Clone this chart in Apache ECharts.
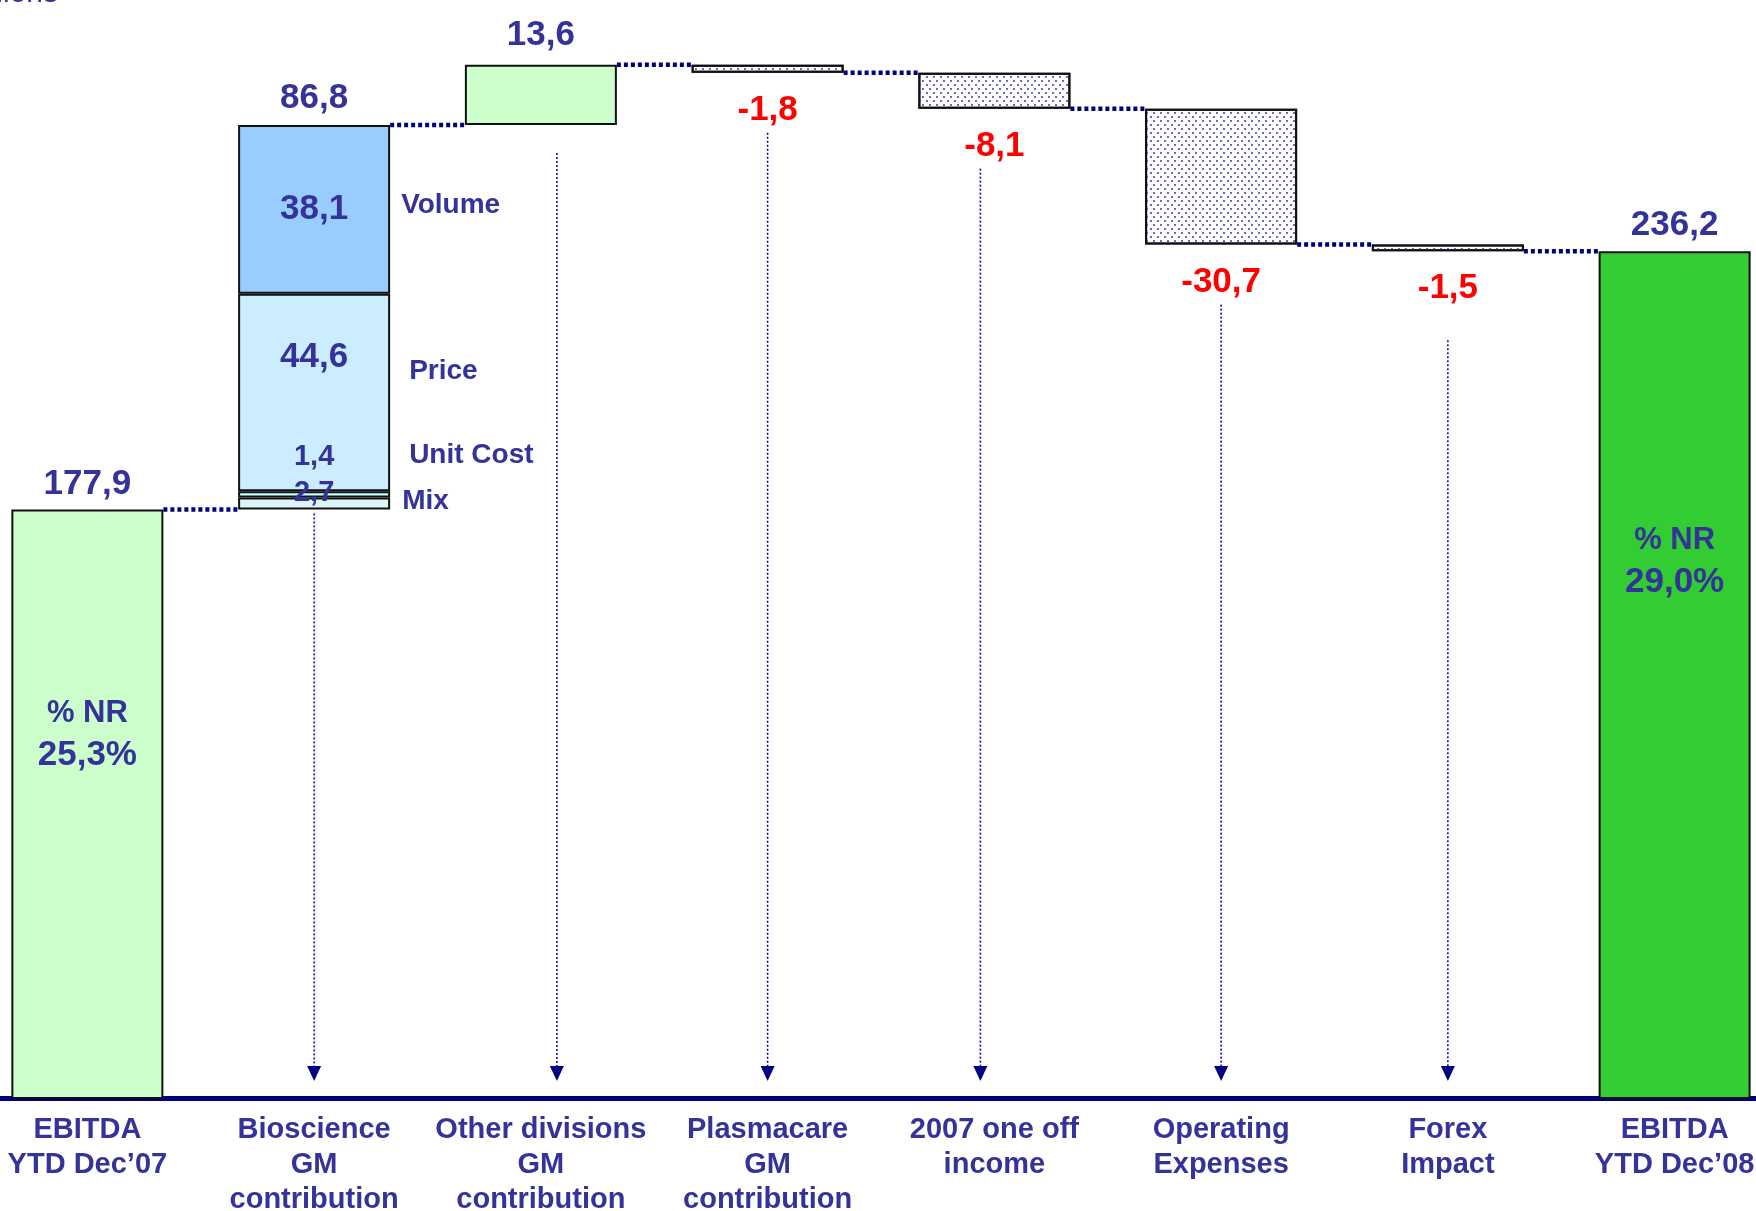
<!DOCTYPE html>
<html lang="en">
<head>
	<meta charset="UTF-8">
	<title>EBITDA bridge</title>
	<style>
       html, body{ margin: 0; padding: 0; background: #fff; overflow: hidden; }
       /* the bridge is a bit wider than the window: first and last bars touch the edges */
       #chart_box{ position: absolute; left: -26px; top: 0; width: 1814px; height: 1211px; }
	</style>
	<script type="text/javascript" src="https://cdn.jsdelivr.net/npm/echarts@6/dist/echarts.min.js"></script>
</head>
<body>
	<div id="chart_box"></div>
	<script type="text/javascript">
      // data
      var categories = ['EBITDA\nYTD Dec’07', 'Bioscience\nGM\ncontribution', 'Other divisions\nGM\ncontribution',
                        'Plasmacare\nGM\ncontribution', '2007 one off\nincome', 'Operating\nExpenses',
                        'Forex\nImpact', 'EBITDA\nYTD Dec’08'];
      var startValue = 177.9;
      var endValue = 236.2;
      var bioParts = ['Mix', 'Unit Cost', 'Price', 'Volume'];
      var bioValues = [2.7, 1.4, 44.6, 38.1];
      var otherDivisions = 13.6;
      var negativeValues = [-1.8, -8.1, -30.7, -1.5];   // Plasmacare, one off, opex, forex
      var nrPct = ['25,3%', '29,0%'];

      // style / layout constants
      var navy = '#333399';
      var lineNavy = '#000080';
      var barW = 152;
      var yMin = 45, yMax = 290;
      var font = 'Liberation Sans, Arial, sans-serif';
      var partColors = ['#DDF5F7', '#CCFFFF', '#CCECFF', '#99CCFF'];
      var partValueOffset = [[0, -10], [0, -37], [0, -35], [0, 0]];
      var partNameDx = [12, 19, 19, 11];
      var partNameDy = [-2, -39, -21, -4];
      var arrowGap = [4, 28, 60, 60, 60, 89];
      var arrowDx = [0, 16, 0, -14, 0, 0];

      var fmt = function(v){ return Math.abs(v).toFixed(1).replace('.', ','); };

      // running levels of the bridge
      var bioTotal = bioValues.reduce(function(a, b){ return a + b; }, 0);
      var levels = [startValue, startValue + bioTotal];
      levels.push(levels[1] + otherDivisions);
      negativeValues.forEach(function(v){ levels.push(levels[levels.length - 1] + v); });

      var n = categories.length;
      var empty = function(){ var a = []; for (var i = 0; i < n; i++) a.push('-'); return a; };

      var baseData = [0, levels[0], levels[1], levels[3], levels[4], levels[5], levels[6], 0];

      var totalData = empty();
      totalData[0] = {value: startValue, itemStyle: {color: '#CCFFCC'}};
      totalData[n - 1] = {value: endValue, itemStyle: {color: '#33CC33'}};

      var upData = empty();
      upData[2] = otherDivisions;

      var downData = empty();
      negativeValues.forEach(function(v, k){ downData[3 + k] = Math.abs(v); });

      var noteData = empty();
      noteData[0] = {value: startValue, label: {show: true, position: 'insideTop', distance: 183,
                     formatter: '{a|% NR}\n{b|' + nrPct[0] + '}'}};
      noteData[1] = {value: levels[1], label: {show: true, position: 'top', distance: 6,
                     formatter: '{b|' + fmt(bioTotal) + '}'}};
      noteData[n - 1] = {value: endValue, label: {show: true, position: 'insideTop', distance: 268,
                     formatter: '{a|% NR}\n{b|' + nrPct[1] + '}'}};

      var commonBar = {
          type: 'bar',
          barWidth: barW,
          barGap: '-100%',
          itemStyle: {borderColor: '#111', borderWidth: 2}
      };
      var bar = function(extra){ return Object.assign({}, commonBar, extra); };

      var series = [];
      series.push(bar({
          name: 'base', stack: 'wf', silent: true, data: baseData,
          itemStyle: {color: 'rgba(0,0,0,0)', borderWidth: 0}
      }));
      series.push(bar({
          name: 'total', stack: 'wf', data: totalData,
          label: {show: true, position: 'top', distance: 8, color: navy, fontSize: 35,
                  fontWeight: 'bold', fontFamily: font, formatter: function(p){ return fmt(p.value); }}
      }));
      bioParts.forEach(function(name, k){
          var d = empty();
          d[1] = bioValues[k];
          series.push(bar({
              name: name, stack: 'wf', data: d,
              itemStyle: {color: partColors[k], borderColor: '#111', borderWidth: 2},
              label: {show: true, position: 'inside', offset: partValueOffset[k], color: navy,
                      fontSize: k < 2 ? 29 : 35, fontWeight: 'bold', fontFamily: font,
                      formatter: function(p){ return fmt(p.value); }}
          }));
      });
      series.push(bar({
          name: 'Other divisions', stack: 'wf', data: upData,
          itemStyle: {color: '#CCFFCC', borderColor: '#111', borderWidth: 2},
          label: {show: true, position: 'top', distance: 12, color: navy, fontSize: 35,
                  fontWeight: 'bold', fontFamily: font, formatter: function(p){ return fmt(p.value); }}
      }));
      series.push(bar({
          name: 'decrease', stack: 'wf', data: downData,
          itemStyle: {
              color: '#ffffff', borderColor: '#111', borderWidth: 2,
              decal: {symbol: 'rect', symbolSize: 1, dashArrayX: [[1.5, 4.5], [0, 3, 1.5, 1.5]],
                      dashArrayY: [1.5, 1.5], color: '#6a6ac4'}
          },
          label: {show: true, position: 'bottom', distance: 20, color: '#FF0000', fontSize: 35,
                  fontWeight: 'bold', fontFamily: font,
                  formatter: function(p){ return '-' + fmt(p.value); }}
      }));
      series.push(bar({
          name: 'notes', data: noteData, silent: true,
          itemStyle: {color: 'rgba(0,0,0,0)', borderWidth: 0},
          label: {color: navy, fontFamily: font, fontWeight: 'bold',
                  rich: {a: {fontSize: 31, lineHeight: 42, color: navy, fontWeight: 'bold', fontFamily: font},
                         b: {fontSize: 35, lineHeight: 42, color: navy, fontWeight: 'bold', fontFamily: font}}}
      }));

      // dotted connectors between bars
      var connData = [];
      for (var i = 0; i < n - 1; i++) connData.push([i, levels[i]]);
      series.push({
          type: 'custom', name: 'connectors', silent: true, data: connData, z: 3,
          renderItem: function(params, api){
              var i = api.value(0), lvl = api.value(1);
              var p1 = api.coord([i, lvl]), p2 = api.coord([i + 1, lvl]);
              return {type: 'line',
                      shape: {x1: p1[0] + barW / 2, y1: p1[1], x2: p2[0] - barW / 2, y2: p2[1]},
                      style: {stroke: lineNavy, lineWidth: 4.5, lineDash: [4, 3]}};
          }
      });

      // dotted arrows down to the axis
      var arrowData = [[1, levels[0]], [2, levels[1]]];
      for (var k = 3; k < 7; k++) arrowData.push([k, levels[k]]);
      series.push({
          type: 'custom', name: 'arrows', silent: true, data: arrowData, z: 3,
          renderItem: function(params, api){
              var j = params.dataIndex;
              var p = api.coord([api.value(0), api.value(1)]);
              var axisY = api.coord([api.value(0), yMin])[1];
              var x = p[0] + arrowDx[j];
              var tip = axisY - 17, head = axisY - 32;
              return {type: 'group', children: [
                  {type: 'line', shape: {x1: x, y1: p[1] + arrowGap[j], x2: x, y2: head},
                   style: {stroke: '#000099', lineWidth: 1.5, lineDash: [2, 2]}},
                  {type: 'polygon', shape: {points: [[x - 7, head], [x + 7, head], [x, tip]]},
                   style: {fill: lineNavy}}
              ]};
          }
      });

      // names of the bioscience parts
      var partNameData = [];
      var acc = startValue;
      bioValues.forEach(function(v, k){ partNameData.push([1, acc + v / 2, k]); acc += v; });
      series.push({
          type: 'custom', name: 'part names', silent: true, data: partNameData, z: 4,
          renderItem: function(params, api){
              var k = api.value(2);
              var p = api.coord([api.value(0), api.value(1)]);
              return {type: 'text', x: p[0] + barW / 2 + partNameDx[k], y: p[1] + partNameDy[k],
                      style: {text: bioParts[k], fill: navy, align: 'left', verticalAlign: 'middle',
                              font: 'bold 28px ' + font}};
          }
      });

      var chart = echarts.init(document.getElementById('chart_box'));
      var option = {
          animation: false,
          grid: {left: 0, right: 0, top: 13, bottom: 113, containLabel: false, outerBoundsMode: 'none'},
          graphic: [{type: 'text', x: -16, y: -21,
                     style: {text: 'Millions', fill: navy, font: '30px ' + font}}],
          xAxis: {
              type: 'category',
              data: categories,
              axisTick: {show: false},
              axisLine: {lineStyle: {color: lineNavy, width: 5}},
              axisLabel: {interval: 0, margin: 14, color: navy, fontSize: 29, lineHeight: 35,
                          fontWeight: 'bold', fontFamily: font}
          },
          yAxis: {type: 'value', min: yMin, max: yMax, show: false, splitLine: {show: false}},
          series: series
      };
      chart.setOption(option);
	</script>
</body>
</html>
